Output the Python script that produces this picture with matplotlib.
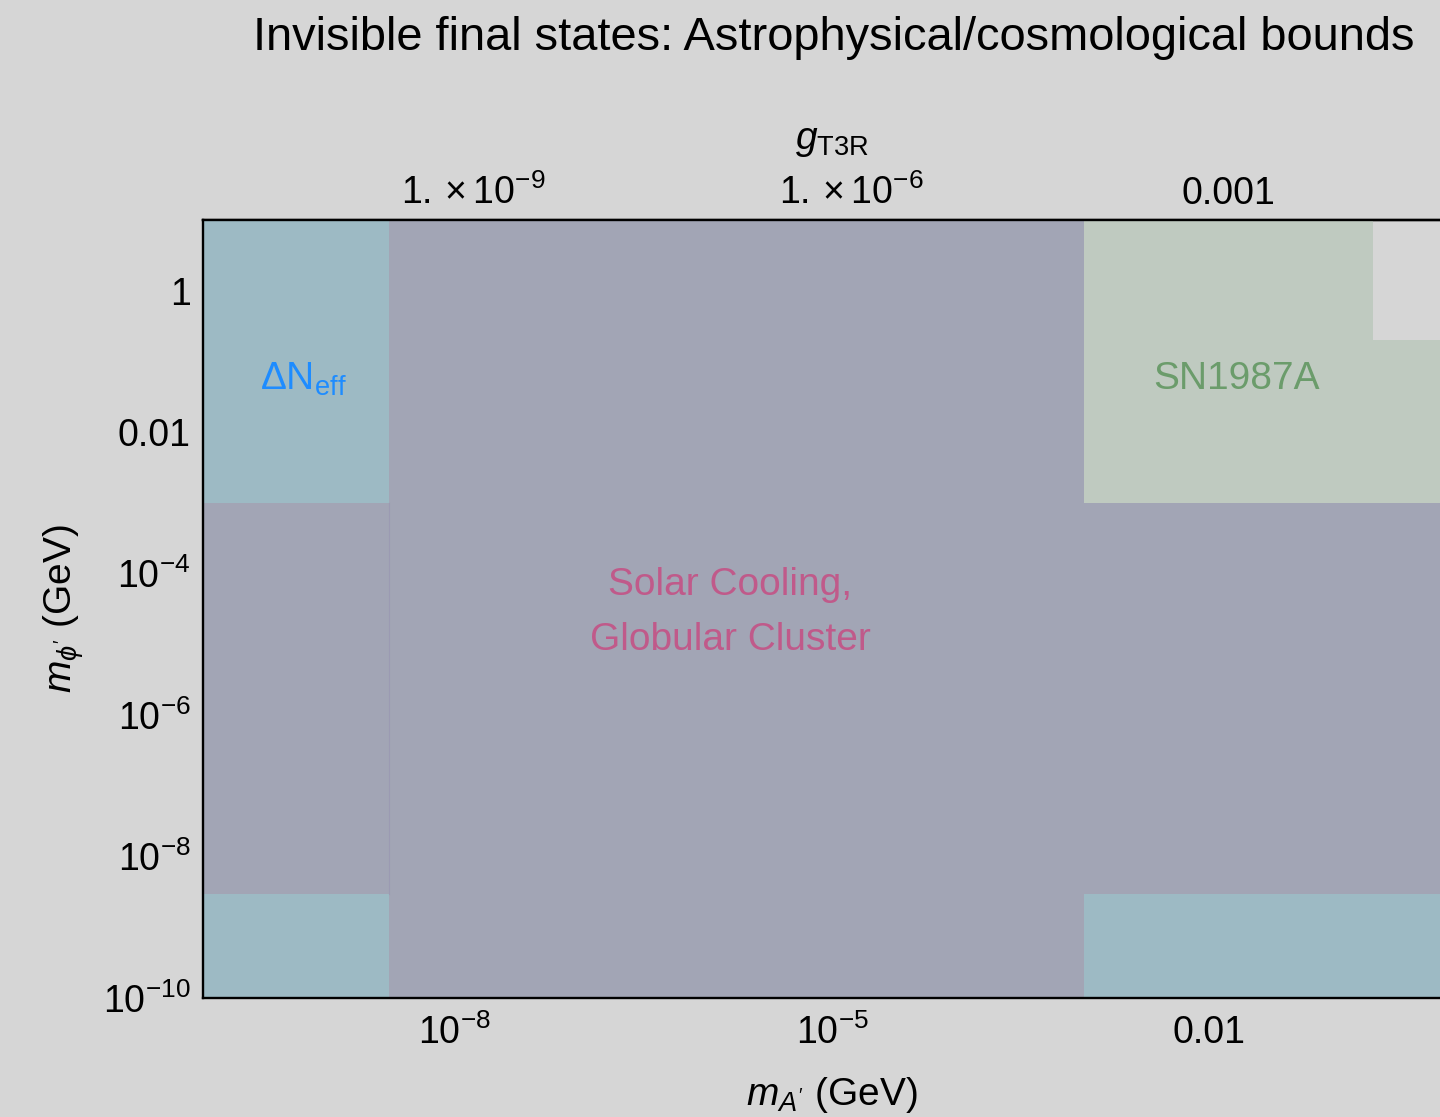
import matplotlib
matplotlib.use('Agg')
from matplotlib import pyplot as plt
from matplotlib.ticker import NullFormatter

plt.rcParams['font.family'] = ['Liberation Sans', 'DejaVu Sans']
plt.rcParams['mathtext.fontset'] = 'custom'
plt.rcParams['mathtext.rm'] = 'Liberation Sans'
plt.rcParams['mathtext.it'] = 'Liberation Sans:italic'
plt.rcParams['mathtext.bf'] = 'Liberation Sans:bold'
plt.rcParams['mathtext.fallback'] = 'stix'

# plot range (GeV)
x_range = [1e-10, 1.0]
y_range = [1e-10, 10.0]

# mass thresholds of the excluded regions (GeV)
sn1987a_max = 0.2
neff_max = 3e-9
solar_min = 3e-9
solar_max = 1e-3

# g_T3R per GeV of m_A'
g_per_mass = 0.0707

x_major = [1e-8, 1e-5, 1e-2]
x_major_labels = [r'$10^{-8}$', r'$10^{-5}$', '0.01']
x_minor = [1e-10, 1e-9, 1e-7, 1e-6, 1e-4, 1e-3, 1e-1]
y_major = [1, 1e-2, 1e-4, 1e-6, 1e-8, 1e-10]
y_major_labels = ['1', '0.01', r'$10^{-4}$', r'$10^{-6}$', r'$10^{-8}$', r'$10^{-10}$']
y_minor = [1e-1, 1e-3, 1e-5, 1e-7, 1e-9]
g_major = [1e-9, 1e-6, 1e-3]
g_major_labels = [r'$1.\times10^{-9}$', r'$1.\times10^{-6}$', '0.001']
g_minor = [1e-11, 1e-10, 1e-8, 1e-7, 1e-5, 1e-4, 1e-2]

bg = '#d6d6d6'
c_neff = '#9dbac4'
c_solar = '#a2a5b5'
c_sn = '#bfcac0'

fig = plt.figure(figsize=(14.4, 11.17), dpi=100, facecolor=bg)
ax = fig.add_axes([0.141, 0.1065, 0.8736, 0.6966])
ax.set_facecolor(bg)
ax.set_xscale('log')
ax.set_yscale('log')
ax.set_xlim(*x_range)
ax.set_ylim(*y_range)

x0, x1 = x_range
y0, y1 = y_range

# SN1987A: everything except both masses above the threshold
ax.fill([x0, x1, x1, sn1987a_max, sn1987a_max, x0],
        [y0, y0, sn1987a_max, sn1987a_max, y1, y1],
        color=c_sn, lw=0, zorder=1)

# Delta N_eff
ax.axvspan(x0, neff_max, color=c_neff, lw=0, zorder=2)
ax.axhspan(y0, neff_max, color=c_neff, lw=0, zorder=2)

# solar cooling / globular cluster
ax.axvspan(solar_min, solar_max, color=c_solar, lw=0, zorder=3)
ax.axhspan(solar_min, solar_max, color=c_solar, lw=0, zorder=3)
ax.plot([solar_min, solar_min], [solar_min, solar_max], color='#9b9ab2', lw=0.8, zorder=4)

ax.text(2.84e-10, 0.055, r'ΔN$_{\mathrm{eff}}$', color='#1e8cff', fontsize=28,
        ha='left', va='center', zorder=5)
ax.text(0.0164, 0.056, 'SN1987A', color='#6b9c6b', fontsize=28, ha='center', va='center', zorder=5)
ax.text(1.55e-6, 2.8e-5, 'Solar Cooling,\nGlobular Cluster', color='#c05a8a', fontsize=28,
        ha='center', va='center', linespacing=1.66, zorder=5)

for side in ['left', 'top', 'bottom']:
    ax.spines[side].set_linewidth(1.7)
    ax.spines[side].set_zorder(6)
ax.spines['right'].set_visible(False)

ax.set_xticks(x_major, x_major_labels)
ax.set_xticks(x_minor, minor=True)
ax.set_yticks(y_major, y_major_labels)
ax.set_yticks(y_minor, minor=True)
ax.xaxis.set_minor_formatter(NullFormatter())
ax.yaxis.set_minor_formatter(NullFormatter())
ax.tick_params(which='both', direction='in', top=False, right=False, labelsize=27, width=1.2,
               color='#222222', zorder=6)
ax.tick_params(axis='x', pad=12)
ax.tick_params(axis='y', pad=9)
ax.tick_params(which='major', length=9)
ax.tick_params(which='minor', length=4.5)

sec = ax.secondary_xaxis('top', functions=(lambda m: m * g_per_mass, lambda g: g / g_per_mass))
sec.set_xticks(g_major, g_major_labels)
sec.set_xticks(g_minor, minor=True)
sec.xaxis.set_minor_formatter(NullFormatter())
sec.tick_params(which='both', direction='in', labelsize=27, pad=6, width=1.2, color='#222222')
sec.tick_params(which='major', length=9)
sec.tick_params(which='minor', length=4.5)
sec.spines['top'].set_linewidth(1.7)
sec.set_xlabel(r'$g_{\mathrm{T3R}}$', fontsize=28, labelpad=18)

ax.set_xlabel(r"$m_{A'}$ (GeV)", fontsize=28, labelpad=16)
ax.set_ylabel(r"$m_{\phi'}$ (GeV)", fontsize=28, labelpad=12)

fig.text(0.982, 0.966, 'Invisible final states: Astrophysical/cosmological bounds', fontsize=33.8,
         ha='right', va='center')

fig.savefig('out.png', dpi=100, facecolor=bg)
